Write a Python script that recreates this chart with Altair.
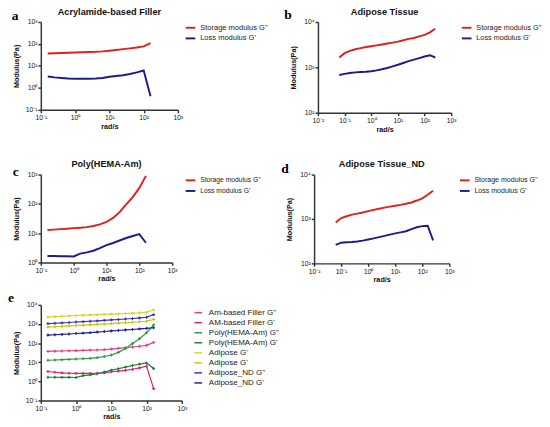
import altair as alt
import pandas as pd

FONT = "Liberation Sans, Arial"
LETTER_FONT = "Liberation Serif"

# angular frequency (rad/s)
FREQ_16 = [0.159, 0.251, 0.398, 0.631, 1.0, 1.585, 2.512, 3.981, 6.31, 10.0,
           15.85, 25.12, 39.81, 63.1, 100.0, 158.5]
FREQ_19 = [0.0631, 0.1, 0.1585, 0.2512, 0.3981, 0.631, 1.0, 1.585, 2.512, 3.981,
           6.31, 10.0, 15.85, 25.12, 39.81, 63.1, 100.0, 158.5, 251.2]

# a: Acrylamide-based filler
AM_STORAGE = [37, 38, 39, 40, 41, 42, 43, 44, 46, 49, 53, 58, 63, 69, 77, 110]
AM_LOSS = [3.3, 3.0, 2.8, 2.65, 2.6, 2.6, 2.6, 2.65, 2.8, 3.2, 3.45, 3.75, 4.3, 5.1, 6.2, 0.42]
# c: Poly(HEMA-Am)
PH_STORAGE = [12.8, 13.2, 13.7, 14.2, 14.8, 15.3, 16.0, 17.5, 20, 24, 33, 52, 95, 170, 350, 900]
PH_LOSS = [1.65, 1.65, 1.62, 1.62, 1.6, 2.0, 2.2, 2.5, 3.1, 3.9, 4.6, 5.6, 6.8, 8.0, 9.2, 4.7]
# b: Adipose tissue
AT_STORAGE = [1650, 2050, 2300, 2500, 2650, 2800, 2920, 3050, 3200, 3350, 3500, 3700,
              3950, 4250, 4450, 4800, 5200, 5900, 7100]
AT_LOSS = [680, 720, 750, 775, 790, 800, 820, 860, 910, 970, 1050, 1140, 1250, 1370,
           1480, 1600, 1730, 1850, 1650]
# d: Adipose tissue_ND
ND_STORAGE = [830, 1050, 1150, 1250, 1320, 1400, 1500, 1600, 1700, 1800, 1900, 1990,
              2080, 2200, 2350, 2600, 2920, 3500, 4300]
ND_LOSS = [262, 292, 298, 302, 310, 325, 345, 365, 390, 415, 445, 474, 500, 530, 590,
           650, 690, 705, 330]
# e: adipose series as drawn in the comparison panel
E_AT_STORAGE = [2300, 2420, 2540, 2660, 2800, 2900, 3000, 3090, 3180, 3300, 3420, 3560,
                3720, 3900, 4200, 5400]
E_AT_LOSS = [690, 720, 760, 800, 840, 870, 910, 950, 1000, 1050, 1110, 1170, 1240, 1310,
             1400, 1750]
E_ND_STORAGE = [1050, 1100, 1150, 1200, 1280, 1340, 1400, 1470, 1550, 1640, 1730, 1830,
                1950, 2080, 2250, 3100]
E_ND_LOSS = [265, 275, 285, 300, 320, 335, 355, 380, 405, 435, 460, 490, 520, 555, 590, 640]

LEG_PAIR = ['Storage modulus G"', "Loss modulus G'"]
LEG_E = ['Am-based Filler G"', "AM-based Filler G'", 'Poly(HEMA-Am) G"', "Poly(HEMA-Am) G'",
         "Adipose G'", "Adipose G' ", 'Adipose_ND G"', "Adipose_ND  G'"]
COL_PAIR = ["#E0201C", "#1C1C8C"]
COL_E = ["#E8407A", "#E0206A", "#2E9A40", "#1A8030", "#D4D42A", "#C8C800", "#3535B5", "#20208F"]

TITLES = ["Acrylamide-based Filler", "Adipose Tissue", "Poly(HEMA-Am)", "Adipose Tissue_ND"]
LETTERS = ["a", "b", "c", "d", "e"]

X_EXP_1 = [-1, 0, 1, 2, 3]
X_EXP_2 = [-2, -1, 0, 1, 2, 3]
Y_EXP_A = [-1, 0, 1, 2, 3]
Y_EXP_B = [2, 3, 4]
Y_EXP_C = [0, 1, 2, 3]
Y_EXP_E = [-1, 0, 1, 2, 3, 4]

SUP = {-2: "\u207b\u00b2", -1: "\u207b\u00b9", 0: "\u2070", 1: "\u00b9", 2: "\u00b2",
       3: "\u00b3", 4: "\u2074"}


def label_expr(exps):
    s = "'10" + SUP[exps[-1]] + "'"
    for e in reversed(exps[:-1]):
        thr = 3 * 10 ** e
        s = "datum.value < %g ? '10%s' : (%s)" % (thr, SUP[e], s)
    return s


def long_df(freq, series, labels):
    rows = []
    for vals, lab in zip(series, labels):
        for f, v in zip(freq, vals):
            rows.append({"freq": f, "mod": v, "series": lab})
    return pd.DataFrame(rows)


def panel(df, title, letter, xexp, yexp, w, h, labels, colors, letter_pos,
          legend, sw=2.0, points=False):
    mark_kw = dict(strokeWidth=sw)
    if points:
        mark_kw["point"] = alt.OverlayMarkDef(shape="cross", size=9, filled=True)
    line = alt.Chart(df).mark_line(**mark_kw).encode(
        x=alt.X("freq:Q",
                scale=alt.Scale(type="log", domain=[10 ** xexp[0], 10 ** xexp[-1]], nice=False),
                axis=alt.Axis(values=[10 ** e for e in xexp], labelExpr=label_expr(xexp),
                              title="rad/s")),
        y=alt.Y("mod:Q",
                scale=alt.Scale(type="log", domain=[10 ** yexp[0], 10 ** yexp[-1]], nice=False),
                axis=alt.Axis(values=[10 ** e for e in yexp], labelExpr=label_expr(yexp),
                              title="Modulus(Pa)")),
        color=alt.Color("series:N", scale=alt.Scale(domain=labels, range=colors),
                        legend=legend),
    )
    txt = alt.Chart(pd.DataFrame({"t": [letter]})).mark_text(
        font=LETTER_FONT, fontSize=14, fontWeight="bold", align="left", baseline="middle",
        color="black"
    ).encode(text="t:N", x=alt.value(letter_pos[0]), y=alt.value(letter_pos[1]))
    props = dict(width=w, height=h)
    if title:
        # the letter sits inside the panel bounds, so the title offset is measured from it
        props["title"] = alt.TitleParams(title, font=FONT, fontSize=9.5, fontWeight="bold",
                                         offset=letter_pos[1] - 1, color="#111")
    return alt.layer(line, txt).properties(**props)


def pair_legend(offset, size):
    return alt.Legend(title=None, orient="right", offset=offset, padding=0,
                      labelFont=FONT, labelFontSize=size, labelColor="#222",
                      symbolType="stroke", symbolStrokeWidth=2, symbolSize=100,
                      labelOffset=4, rowPadding=1)


pa = panel(long_df(FREQ_16, [AM_STORAGE, AM_LOSS], LEG_PAIR), TITLES[0], LETTERS[0],
           X_EXP_1, Y_EXP_A, 142, 91, LEG_PAIR, COL_PAIR, (-30, -6.5), pair_legend(7, 7.8))
pb = panel(long_df(FREQ_19, [AT_STORAGE, AT_LOSS], LEG_PAIR), TITLES[1], LETTERS[1],
           X_EXP_2, Y_EXP_B, 138, 94, LEG_PAIR, COL_PAIR, (-35, -7), pair_legend(10, 7.5))
pc = panel(long_df(FREQ_16, [PH_STORAGE, PH_LOSS], LEG_PAIR), TITLES[2], LETTERS[2],
           X_EXP_1, Y_EXP_C, 136, 91, LEG_PAIR, COL_PAIR, (-29, -2), pair_legend(13, 7))
pd_ = panel(long_df(FREQ_19, [ND_STORAGE, ND_LOSS], LEG_PAIR), TITLES[3], LETTERS[3],
            X_EXP_2, Y_EXP_B, 140, 92, LEG_PAIR, COL_PAIR, (-34, -6), pair_legend(10, 7.3))

e_series = [AM_STORAGE, AM_LOSS, PH_STORAGE, PH_LOSS, E_AT_STORAGE, E_AT_LOSS,
            E_ND_STORAGE, E_ND_LOSS]
e_legend = alt.Legend(title=None, orient="none", legendX=158, legendY=3, padding=0,
                      labelFont=FONT, labelFontSize=8.3, labelColor="#222",
                      symbolType="stroke", symbolStrokeWidth=1.5, symbolSize=64,
                      labelOffset=6, rowPadding=1.4)
pe = panel(long_df(FREQ_16, e_series, LEG_E), None, LETTERS[4], X_EXP_1, Y_EXP_E,
           146, 99, LEG_E, COL_E, (-34, -6.5), e_legend, sw=1.2, points=True)

row1 = alt.hconcat(pa, pb, spacing=17).resolve_scale(color="independent").resolve_legend(color="independent")
row2 = alt.hconcat(pc, pd_, spacing=21).resolve_scale(color="independent").resolve_legend(color="independent")

chart = alt.vconcat(
    alt.vconcat(row1, row2, spacing=27).resolve_scale(color="independent").resolve_legend(color="independent"),
    pe, spacing=8
).resolve_scale(color="independent").resolve_legend(color="independent").properties(
    padding={"top": -9, "left": 0, "right": 0, "bottom": 0}
).configure_view(stroke=None).configure_axis(
    domainColor="#333", domainWidth=1.5, tickColor="#333", tickWidth=1.5, tickSize=3,
    grid=False, labelFont=FONT, labelFontSize=7, labelColor="#111", labelPadding=1,
    labelFlush=False, labelOverlap=False, titleFont=FONT, titleFontSize=7.5,
    titleFontWeight="bold", titleColor="#111"
).configure_axisX(titleY=17, titleBaseline="middle").configure_axisY(
    titleX=-25, titleBaseline="middle"
)

chart.save("out.html", embed_options={"renderer": "svg", "actions": False})
